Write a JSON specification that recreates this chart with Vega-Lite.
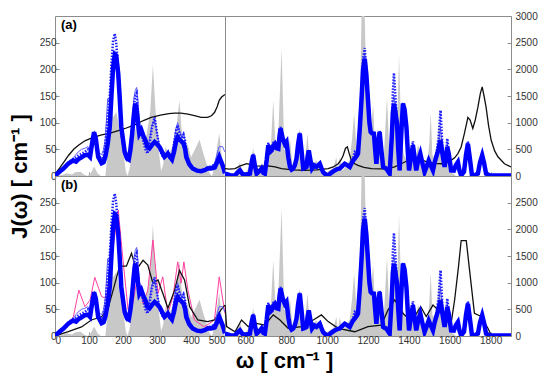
{
  "$schema": "https://vega.github.io/schema/vega-lite/v6.json",
  "padding": {"left": 7, "top": 10, "right": 5, "bottom": 5},
  "background": "white",
  "config": {
    "font": "Liberation Sans",
    "view": {"stroke": "#8c8c8c", "strokeWidth": 1},
    "axis": {"grid": false, "domain": false, "tickColor": "#8c8c8c", "tickSize": -4, "labelFont": "Liberation Sans", "labelFontSize": 10, "labelColor": "#333333", "labelPadding": 3, "title": null, "format": "d"},
    "title": {"font": "Liberation Sans", "fontSize": 13, "fontWeight": "bold", "color": "#000000", "anchor": "start", "frame": "group", "offset": -16, "dx": 6}
  },
  "datasets": {
    "grayL": [
      {"w":0,"v":0},{"w":20,"v":2},{"w":35,"v":5},{"w":50,"v":3},{"w":60,"v":7},{"w":75,"v":8},{"w":85,"v":3},{"w":95,"v":0},{"w":105,"v":5},{"w":115,"v":18},{"w":125,"v":5},{"w":135,"v":0},{"w":148,"v":0},{"w":152,"v":25},{"w":158,"v":100},{"w":165,"v":130},{"w":172,"v":110},{"w":180,"v":120},{"w":190,"v":90},{"w":200,"v":50},{"w":208,"v":10},{"w":213,"v":0},{"w":220,"v":15},{"w":228,"v":70},{"w":238,"v":90},{"w":248,"v":95},{"w":255,"v":85},{"w":262,"v":60},{"w":270,"v":80},{"w":280,"v":120},{"w":288,"v":208},{"w":295,"v":130},{"w":303,"v":60},{"w":312,"v":10},{"w":318,"v":20},{"w":325,"v":55},{"w":335,"v":40},{"w":345,"v":55},{"w":357,"v":90},{"w":366,"v":142},{"w":372,"v":90},{"w":380,"v":55},{"w":390,"v":60},{"w":400,"v":35},{"w":412,"v":50},{"w":425,"v":68},{"w":435,"v":45},{"w":445,"v":25},{"w":455,"v":5},{"w":462,"v":0},{"w":470,"v":20},{"w":478,"v":60},{"w":483,"v":80},{"w":490,"v":40},{"w":495,"v":10},{"w":500,"v":0}
    ],
    "grayR": [
      {"w":500,"v":0},{"w":520,"v":50},{"w":540,"v":0},{"w":560,"v":150},{"w":573,"v":260},{"w":585,"v":100},{"w":600,"v":50},{"w":615,"v":150},{"w":630,"v":300},{"w":638,"v":540},{"w":648,"v":150},{"w":665,"v":100},{"w":680,"v":250},{"w":695,"v":100},{"w":710,"v":400},{"w":725,"v":600},{"w":736,"v":1420},{"w":748,"v":500},{"w":760,"v":700},{"w":777,"v":2390},{"w":790,"v":500},{"w":805,"v":400},{"w":818,"v":700},{"w":830,"v":200},{"w":845,"v":300},{"w":866,"v":890},{"w":880,"v":200},{"w":892,"v":300},{"w":904,"v":800},{"w":915,"v":200},{"w":930,"v":150},{"w":945,"v":300},{"w":960,"v":200},{"w":975,"v":100},{"w":990,"v":50},{"w":1010,"v":100},{"w":1030,"v":150},{"w":1045,"v":350},{"w":1052,"v":100},{"w":1062,"v":350},{"w":1075,"v":100},{"w":1095,"v":200},{"w":1110,"v":300},{"w":1122,"v":700},{"w":1132,"v":1170},{"w":1145,"v":500},{"w":1160,"v":1300},{"w":1170,"v":3300},{"w":1182,"v":3300},{"w":1190,"v":2000},{"w":1200,"v":1100},{"w":1212,"v":800},{"w":1225,"v":1325},{"w":1235,"v":500},{"w":1248,"v":900},{"w":1260,"v":300},{"w":1275,"v":200},{"w":1293,"v":1480},{"w":1305,"v":400},{"w":1320,"v":800},{"w":1335,"v":1200},{"w":1345,"v":1300},{"w":1352,"v":2260},{"w":1362,"v":900},{"w":1375,"v":400},{"w":1390,"v":300},{"w":1405,"v":450},{"w":1418,"v":300},{"w":1430,"v":200},{"w":1445,"v":600},{"w":1460,"v":300},{"w":1475,"v":200},{"w":1490,"v":250},{"w":1500,"v":600},{"w":1507,"v":1200},{"w":1515,"v":400},{"w":1530,"v":300},{"w":1550,"v":1100},{"w":1560,"v":500},{"w":1575,"v":300},{"w":1590,"v":400},{"w":1600,"v":150},{"w":1615,"v":50},{"w":1630,"v":0},{"w":1900,"v":0}
    ],
    "blueL": [
      {"w":0,"thick":0,"dot":0,"thin":0},{"w":8,"thick":5,"dot":5,"thin":5},{"w":15,"thick":9,"dot":10,"thin":9},{"w":25,"thick":14,"dot":16,"thin":15},{"w":39,"thick":23,"dot":25,"thin":26},{"w":48,"thick":27,"dot":30,"thin":30},{"w":54,"thick":29,"dot":32,"thin":35},{"w":62,"thick":27,"dot":35,"thin":40},{"w":68,"thick":31,"dot":38,"thin":45},{"w":78,"thick":35,"dot":42,"thin":50},{"w":88,"thick":39,"dot":45,"thin":52},{"w":97,"thick":40,"dot":50,"thin":55},{"w":103,"thick":36,"dot":45,"thin":50},{"w":110,"thick":65,"dot":70,"thin":70},{"w":115,"thick":82,"dot":78,"thin":80},{"w":120,"thick":70,"dot":65,"thin":72},{"w":127,"thick":36,"dot":40,"thin":45},{"w":137,"thick":24,"dot":30,"thin":40},{"w":143,"thick":26,"dot":38,"thin":50},{"w":148,"thick":36,"dot":60,"thin":70},{"w":155,"thick":60,"dot":110,"thin":145},{"w":161,"thick":92,"dot":150,"thin":140},{"w":166,"thick":150,"dot":210,"thin":170},{"w":171,"thick":204,"dot":255,"thin":215},{"w":176,"thick":228,"dot":267,"thin":235},{"w":180,"thick":226,"dot":250,"thin":220},{"w":186,"thick":192,"dot":200,"thin":180},{"w":190,"thick":150,"dot":140,"thin":140},{"w":195,"thick":92,"dot":80,"thin":90},{"w":205,"thick":45,"dot":40,"thin":45},{"w":212,"thick":33,"dot":30,"thin":35},{"w":217,"thick":31,"dot":32,"thin":40},{"w":222,"thick":50,"dot":60,"thin":70},{"w":227,"thick":79,"dot":90,"thin":100},{"w":232,"thick":115,"dot":130,"thin":145},{"w":236,"thick":136,"dot":150,"thin":160},{"w":240,"thick":125,"dot":155,"thin":166},{"w":244,"thick":100,"dot":120,"thin":140},{"w":248,"thick":79,"dot":90,"thin":100},{"w":254,"thick":86,"dot":80,"thin":85},{"w":260,"thick":75,"dot":65,"thin":70},{"w":266,"thick":67,"dot":50,"thin":55},{"w":272,"thick":55,"dot":42,"thin":45},{"w":278,"thick":52,"dot":60,"thin":70},{"w":285,"thick":58,"dot":90,"thin":95},{"w":293,"thick":64,"dot":110,"thin":105},{"w":300,"thick":60,"dot":80,"thin":80},{"w":308,"thick":54,"dot":50,"thin":55},{"w":315,"thick":45,"dot":38,"thin":40},{"w":322,"thick":36,"dot":35,"thin":38},{"w":332,"thick":42,"dot":45,"thin":45},{"w":338,"thick":36,"dot":30,"thin":35},{"w":344,"thick":31,"dot":35,"thin":40},{"w":350,"thick":45,"dot":60,"thin":65},{"w":356,"thick":65,"dot":85,"thin":90},{"w":361,"thick":73,"dot":95,"thin":100},{"w":366,"thick":68,"dot":80,"thin":85},{"w":372,"thick":65,"dot":70,"thin":75},{"w":378,"thick":61,"dot":78,"thin":80},{"w":383,"thick":50,"dot":65,"thin":65},{"w":386,"thick":36,"dot":45,"thin":45},{"w":395,"thick":22,"dot":25,"thin":25},{"w":405,"thick":14,"dot":15,"thin":15},{"w":418,"thick":10,"dot":10,"thin":12},{"w":430,"thick":9,"dot":10,"thin":12},{"w":440,"thick":11,"dot":12,"thin":14},{"w":449,"thick":14,"dot":16,"thin":18},{"w":458,"thick":14,"dot":18,"thin":18},{"w":465,"thick":15,"dot":20,"thin":20},{"w":470,"thick":16,"dot":18,"thin":25},{"w":478,"thick":28,"dot":32,"thin":45},{"w":483,"thick":36,"dot":34,"thin":55},{"w":488,"thick":28,"dot":25,"thin":55},{"w":493,"thick":20,"dot":18,"thin":55},{"w":496,"thick":14,"dot":15,"thin":50},{"w":500,"thick":5,"dot":5,"thin":45}
    ],
    "blueR": [
      {"w":500,"thick":45,"dot":50,"thin":60},{"w":525,"thick":15,"dot":15,"thin":20},{"w":549,"thick":10,"dot":10,"thin":10},{"w":560,"thick":60,"dot":60,"thin":70},{"w":573,"thick":105,"dot":120,"thin":130},{"w":585,"thick":40,"dot":40,"thin":45},{"w":598,"thick":25,"dot":25,"thin":30},{"w":622,"thick":45,"dot":50,"thin":50},{"w":630,"thick":250,"dot":280,"thin":260},{"w":638,"thick":390,"dot":420,"thin":400},{"w":646,"thick":200,"dot":220,"thin":210},{"w":655,"thick":45,"dot":50,"thin":50},{"w":668,"thick":90,"dot":100,"thin":100},{"w":679,"thick":140,"dot":150,"thin":150},{"w":688,"thick":60,"dot":60,"thin":60},{"w":695,"thick":45,"dot":50,"thin":50},{"w":704,"thick":300,"dot":350,"thin":320},{"w":712,"thick":575,"dot":620,"thin":600},{"w":720,"thick":450,"dot":500,"thin":480},{"w":728,"thick":480,"dot":520,"thin":500},{"w":736,"thick":560,"dot":620,"thin":600},{"w":744,"thick":600,"dot":650,"thin":620},{"w":752,"thick":520,"dot":560,"thin":540},{"w":761,"thick":510,"dot":540,"thin":530},{"w":767,"thick":750,"dot":800,"thin":780},{"w":772,"thick":890,"dot":920,"thin":900},{"w":778,"thick":780,"dot":820,"thin":800},{"w":785,"thick":670,"dot":700,"thin":690},{"w":793,"thick":600,"dot":640,"thin":620},{"w":801,"thick":640,"dot":660,"thin":650},{"w":810,"thick":350,"dot":380,"thin":360},{"w":818,"thick":170,"dot":180,"thin":180},{"w":826,"thick":120,"dot":130,"thin":130},{"w":834,"thick":140,"dot":150,"thin":150},{"w":842,"thick":200,"dot":210,"thin":210},{"w":850,"thick":325,"dot":340,"thin":330},{"w":858,"thick":600,"dot":620,"thin":610},{"w":866,"thick":795,"dot":810,"thin":800},{"w":874,"thick":500,"dot":520,"thin":510},{"w":883,"thick":140,"dot":150,"thin":150},{"w":891,"thick":150,"dot":160,"thin":160},{"w":899,"thick":170,"dot":180,"thin":180},{"w":904,"thick":350,"dot":360,"thin":360},{"w":910,"thick":480,"dot":490,"thin":490},{"w":918,"thick":300,"dot":310,"thin":310},{"w":926,"thick":140,"dot":150,"thin":150},{"w":937,"thick":200,"dot":210,"thin":210},{"w":948,"thick":170,"dot":180,"thin":180},{"w":956,"thick":200,"dot":210,"thin":210},{"w":964,"thick":230,"dot":240,"thin":240},{"w":972,"thick":150,"dot":160,"thin":160},{"w":980,"thick":75,"dot":80,"thin":80},{"w":992,"thick":30,"dot":30,"thin":30},{"w":1005,"thick":10,"dot":10,"thin":10},{"w":1020,"thick":60,"dot":60,"thin":60},{"w":1037,"thick":105,"dot":110,"thin":110},{"w":1050,"thick":130,"dot":130,"thin":130},{"w":1062,"thick":140,"dot":150,"thin":150},{"w":1075,"thick":190,"dot":200,"thin":200},{"w":1086,"thick":230,"dot":240,"thin":240},{"w":1100,"thick":200,"dot":210,"thin":210},{"w":1111,"thick":170,"dot":180,"thin":180},{"w":1125,"thick":280,"dot":300,"thin":290},{"w":1135,"thick":325,"dot":450,"thin":380},{"w":1145,"thick":380,"dot":420,"thin":400},{"w":1151,"thick":420,"dot":450,"thin":430},{"w":1160,"thick":900,"dot":1000,"thin":950},{"w":1168,"thick":1420,"dot":1600,"thin":1500},{"w":1176,"thick":2000,"dot":2200,"thin":2100},{"w":1184,"thick":2200,"dot":2400,"thin":2300},{"w":1192,"thick":1900,"dot":2000,"thin":1950},{"w":1200,"thick":1420,"dot":1500,"thin":1450},{"w":1207,"thick":1000,"dot":1050,"thin":1020},{"w":1213,"thick":825,"dot":850,"thin":840},{"w":1220,"thick":800,"dot":820,"thin":810},{"w":1229,"thick":795,"dot":800,"thin":800},{"w":1235,"thick":500,"dot":520,"thin":510},{"w":1241,"thick":230,"dot":250,"thin":240},{"w":1249,"thick":600,"dot":620,"thin":610},{"w":1257,"thick":825,"dot":850,"thin":840},{"w":1265,"thick":500,"dot":520,"thin":510},{"w":1274,"thick":170,"dot":180,"thin":180},{"w":1282,"thick":150,"dot":160,"thin":160},{"w":1290,"thick":140,"dot":150,"thin":150},{"w":1298,"thick":90,"dot":100,"thin":100},{"w":1306,"thick":45,"dot":50,"thin":50},{"w":1316,"thick":700,"dot":900,"thin":800},{"w":1322,"thick":1200,"dot":1600,"thin":1400},{"w":1327,"thick":1355,"dot":1930,"thin":1500},{"w":1334,"thick":1200,"dot":1500,"thin":1300},{"w":1342,"thick":980,"dot":1000,"thin":990},{"w":1348,"thick":500,"dot":520,"thin":510},{"w":1355,"thick":105,"dot":110,"thin":110},{"w":1363,"thick":800,"dot":850,"thin":830},{"w":1371,"thick":1355,"dot":1380,"thin":1370},{"w":1379,"thick":1250,"dot":1300,"thin":1270},{"w":1388,"thick":920,"dot":950,"thin":930},{"w":1395,"thick":450,"dot":470,"thin":460},{"w":1401,"thick":105,"dot":110,"thin":110},{"w":1410,"thick":350,"dot":400,"thin":370},{"w":1420,"thick":575,"dot":650,"thin":600},{"w":1428,"thick":350,"dot":380,"thin":360},{"w":1436,"thick":105,"dot":110,"thin":110},{"w":1446,"thick":300,"dot":320,"thin":310},{"w":1456,"thick":420,"dot":450,"thin":430},{"w":1466,"thick":250,"dot":260,"thin":260},{"w":1477,"thick":75,"dot":80,"thin":80},{"w":1487,"thick":180,"dot":190,"thin":190},{"w":1497,"thick":290,"dot":300,"thin":300},{"w":1507,"thick":200,"dot":210,"thin":210},{"w":1518,"thick":105,"dot":110,"thin":110},{"w":1526,"thick":250,"dot":270,"thin":260},{"w":1534,"thick":360,"dot":400,"thin":380},{"w":1545,"thick":500,"dot":700,"thin":600},{"w":1555,"thick":670,"dot":1230,"thin":900},{"w":1565,"thick":400,"dot":500,"thin":450},{"w":1575,"thick":170,"dot":180,"thin":180},{"w":1582,"thick":350,"dot":400,"thin":380},{"w":1588,"thick":545,"dot":700,"thin":600},{"w":1596,"thick":400,"dot":450,"thin":420},{"w":1607,"thick":105,"dot":110,"thin":110},{"w":1620,"thick":100,"dot":100,"thin":100},{"w":1630,"thick":200,"dot":210,"thin":210},{"w":1640,"thick":260,"dot":270,"thin":270},{"w":1648,"thick":100,"dot":100,"thin":100},{"w":1656,"thick":10,"dot":10,"thin":10},{"w":1670,"thick":80,"dot":80,"thin":80},{"w":1680,"thick":400,"dot":420,"thin":410},{"w":1689,"thick":605,"dot":650,"thin":620},{"w":1698,"thick":350,"dot":380,"thin":360},{"w":1709,"thick":10,"dot":10,"thin":10},{"w":1725,"thick":20,"dot":20,"thin":20},{"w":1738,"thick":45,"dot":50,"thin":50},{"w":1748,"thick":250,"dot":280,"thin":260},{"w":1759,"thick":390,"dot":420,"thin":400},{"w":1768,"thick":250,"dot":270,"thin":260},{"w":1778,"thick":45,"dot":50,"thin":50},{"w":1795,"thick":15,"dot":15,"thin":15},{"w":1819,"thick":10,"dot":10,"thin":10},{"w":1900,"thick":10,"dot":10,"thin":10}
    ],
    "blackAL": [
      {"w":0,"v":0},{"w":5,"v":8},{"w":15,"v":16},{"w":25,"v":25},{"w":39,"v":38},{"w":55,"v":50},{"w":70,"v":58},{"w":88,"v":66},{"w":110,"v":72},{"w":137,"v":77},{"w":160,"v":80},{"w":186,"v":85},{"w":210,"v":90},{"w":234,"v":96},{"w":260,"v":104},{"w":283,"v":110},{"w":310,"v":114},{"w":335,"v":117},{"w":352,"v":118},{"w":370,"v":118},{"w":391,"v":116},{"w":410,"v":113},{"w":430,"v":110},{"w":449,"v":110},{"w":460,"v":113},{"w":469,"v":119},{"w":477,"v":130},{"w":483,"v":142},{"w":490,"v":148},{"w":500,"v":153}
    ],
    "blackAR": [
      {"w":500,"v":140},{"w":520,"v":130},{"w":549,"v":140},{"w":575,"v":190},{"w":606,"v":230},{"w":625,"v":215},{"w":647,"v":190},{"w":680,"v":185},{"w":712,"v":190},{"w":745,"v":170},{"w":777,"v":140},{"w":830,"v":115},{"w":891,"v":105},{"w":950,"v":115},{"w":1005,"v":140},{"w":1030,"v":170},{"w":1054,"v":230},{"w":1068,"v":300},{"w":1078,"v":380},{"w":1090,"v":520},{"w":1099,"v":545},{"w":1108,"v":420},{"w":1119,"v":290},{"w":1135,"v":230},{"w":1151,"v":200},{"w":1180,"v":160},{"w":1217,"v":140},{"w":1260,"v":135},{"w":1298,"v":140},{"w":1330,"v":170},{"w":1363,"v":230},{"w":1395,"v":290},{"w":1428,"v":325},{"w":1460,"v":300},{"w":1493,"v":260},{"w":1525,"v":235},{"w":1559,"v":230},{"w":1595,"v":260},{"w":1624,"v":340},{"w":1640,"v":420},{"w":1656,"v":545},{"w":1672,"v":800},{"w":1689,"v":1100},{"w":1700,"v":1050},{"w":1713,"v":890},{"w":1725,"v":1050},{"w":1738,"v":1290},{"w":1750,"v":1550},{"w":1759,"v":1670},{"w":1768,"v":1500},{"w":1778,"v":1290},{"w":1790,"v":950},{"w":1803,"v":670},{"w":1820,"v":470},{"w":1836,"v":360},{"w":1868,"v":230},{"w":1900,"v":170}
    ],
    "blackBL": [
      {"w":0,"v":0},{"w":39,"v":8},{"w":78,"v":17},{"w":107,"v":30},{"w":137,"v":36},{"w":156,"v":52},{"w":171,"v":86},{"w":190,"v":131},{"w":210,"v":131},{"w":225,"v":155},{"w":239,"v":124},{"w":259,"v":142},{"w":273,"v":133},{"w":288,"v":99},{"w":303,"v":105},{"w":317,"v":80},{"w":332,"v":52},{"w":352,"v":86},{"w":366,"v":123},{"w":381,"v":105},{"w":396,"v":55},{"w":420,"v":30},{"w":449,"v":27},{"w":469,"v":30},{"w":488,"v":49},{"w":500,"v":58}
    ],
    "blackBR": [
      {"w":500,"v":580},{"w":508,"v":175},{"w":549,"v":80},{"w":581,"v":300},{"w":614,"v":175},{"w":647,"v":240},{"w":695,"v":205},{"w":736,"v":395},{"w":769,"v":300},{"w":809,"v":145},{"w":875,"v":175},{"w":932,"v":300},{"w":972,"v":395},{"w":1005,"v":270},{"w":1054,"v":145},{"w":1135,"v":80},{"w":1200,"v":175},{"w":1265,"v":205},{"w":1298,"v":490},{"w":1331,"v":675},{"w":1371,"v":425},{"w":1412,"v":270},{"w":1458,"v":550},{"w":1485,"v":365},{"w":1518,"v":580},{"w":1559,"v":425},{"w":1607,"v":240},{"w":1624,"v":675},{"w":1643,"v":1300},{"w":1656,"v":1790},{"w":1681,"v":1790},{"w":1697,"v":1240},{"w":1721,"v":425},{"w":1754,"v":365},{"w":1787,"v":145},{"w":1803,"v":20}
    ],
    "pinkBL": [
      {"w":0,"v":0},{"w":34,"v":17},{"w":54,"v":36},{"w":70,"v":86},{"w":88,"v":55},{"w":103,"v":67},{"w":117,"v":110},{"w":137,"v":74},{"w":151,"v":70},{"w":166,"v":142},{"w":186,"v":236},{"w":200,"v":142},{"w":215,"v":49},{"w":229,"v":61},{"w":244,"v":117},{"w":259,"v":61},{"w":273,"v":86},{"w":288,"v":180},{"w":303,"v":80},{"w":317,"v":111},{"w":332,"v":42},{"w":347,"v":74},{"w":361,"v":139},{"w":371,"v":99},{"w":379,"v":139},{"w":391,"v":86},{"w":410,"v":30},{"w":439,"v":17},{"w":469,"v":30},{"w":483,"v":111},{"w":500,"v":42}
    ]
  },
  "columns": 2,
  "spacing": 0,
  "bounds": "flush",
  "concat": [
    {
      "width": 170, "height": 160,
      "title": {"text": "(a)"},
      "encoding": {
        "x": {"field": "w", "type": "quantitative", "scale": {"domain": [0, 500], "nice": false}, "axis": {"values": [100, 200, 300, 400], "labels": false}},
        "y": {"field": "v", "type": "quantitative", "scale": {"domain": [0, 300], "nice": false}, "axis": {"orient": "left", "values": [0, 50, 100, 150, 200, 250], "title": "J(ω) [ cm⁻¹ ]", "titleFont": "Liberation Sans", "titleFontSize": 22, "titleFontWeight": "bold", "titleColor": "#000000", "titleX": -29, "titleY": 160, "titleAngle": -90, "titleAlign": "center", "titleBaseline": "alphabetic"}}
      },
      "layer": [
        {"data": {"name": "grayL"}, "mark": {"type": "area", "color": "#c8c8c8", "clip": true}},
        {"data": {"name": "blackAL"}, "mark": {"type": "line", "color": "#111111", "strokeWidth": 1.3, "clip": true}},
        {"data": {"name": "blueL"}, "transform": [{"fold": ["thin"], "as": ["s", "v"]}], "mark": {"type": "line", "color": "#5a5aff", "strokeWidth": 1, "clip": true}},
        {"data": {"name": "blueL"}, "transform": [{"fold": ["dot"], "as": ["s", "v"]}], "mark": {"type": "line", "color": "#2020ff", "strokeWidth": 2.5, "strokeDash": [1.5, 1.5], "clip": true}},
        {"data": {"name": "blueL"}, "transform": [{"fold": ["thick"], "as": ["s", "v"]}], "mark": {"type": "line", "color": "#0000ff", "strokeWidth": 4.5, "clip": true}}
      ]
    },
    {
      "width": 286, "height": 160,
      "encoding": {
        "x": {"field": "w", "type": "quantitative", "scale": {"domain": [500, 1900], "nice": false}, "axis": {"values": [600, 800, 1000, 1200, 1400, 1600, 1800], "labels": false}},
        "y": {"field": "v", "type": "quantitative", "scale": {"domain": [0, 3000], "nice": false}, "axis": {"orient": "right", "values": [0, 500, 1000, 1500, 2000, 2500, 3000], "labelPadding": 8}}
      },
      "layer": [
        {"data": {"name": "grayR"}, "mark": {"type": "area", "color": "#c8c8c8", "clip": true}},
        {"data": {"name": "blackAR"}, "mark": {"type": "line", "color": "#111111", "strokeWidth": 1.3, "clip": true}},
        {"data": {"name": "blueR"}, "transform": [{"fold": ["thin"], "as": ["s", "v"]}], "mark": {"type": "line", "color": "#5a5aff", "strokeWidth": 1, "clip": true}},
        {"data": {"name": "blueR"}, "transform": [{"fold": ["dot"], "as": ["s", "v"]}], "mark": {"type": "line", "color": "#2020ff", "strokeWidth": 2.5, "strokeDash": [1.5, 1.5], "clip": true}},
        {"data": {"name": "blueR"}, "transform": [{"fold": ["thick"], "as": ["s", "v"]}], "mark": {"type": "line", "color": "#0000ff", "strokeWidth": 4.5, "clip": true}}
      ]
    },
    {
      "width": 170, "height": 160,
      "title": {"text": "(b)"},
      "encoding": {
        "x": {"field": "w", "type": "quantitative", "scale": {"domain": [0, 500], "nice": false}, "axis": {"values": [0, 100, 200, 300, 400, 500]}},
        "y": {"field": "v", "type": "quantitative", "scale": {"domain": [0, 300], "nice": false}, "axis": {"orient": "left", "values": [0, 50, 100, 150, 200, 250]}}
      },
      "layer": [
        {"data": {"name": "grayL"}, "mark": {"type": "area", "color": "#c8c8c8", "clip": true}},
        {"data": {"name": "pinkBL"}, "mark": {"type": "line", "color": "#ff3fa0", "strokeWidth": 1, "clip": true}},
        {"data": {"name": "blackBL"}, "mark": {"type": "line", "color": "#111111", "strokeWidth": 1.3, "clip": true}},
        {"data": {"name": "blueL"}, "transform": [{"fold": ["thin"], "as": ["s", "v"]}], "mark": {"type": "line", "color": "#5a5aff", "strokeWidth": 1, "clip": true}},
        {"data": {"name": "blueL"}, "transform": [{"fold": ["dot"], "as": ["s", "v"]}], "mark": {"type": "line", "color": "#2020ff", "strokeWidth": 2.5, "strokeDash": [1.5, 1.5], "clip": true}},
        {"data": {"name": "blueL"}, "transform": [{"fold": ["thick"], "as": ["s", "v"]}], "mark": {"type": "line", "color": "#0000ff", "strokeWidth": 4.5, "clip": true}}
      ]
    },
    {
      "width": 286, "height": 160,
      "encoding": {
        "x": {"field": "w", "type": "quantitative", "scale": {"domain": [500, 1900], "nice": false}, "axis": {"values": [600, 800, 1000, 1200, 1400, 1600, 1800], "title": "ω [ cm⁻¹ ]", "titleFont": "Liberation Sans", "titleFontSize": 22, "titleFontWeight": "bold", "titleColor": "#000000", "titleX": 59, "titleY": 31, "titleAlign": "center", "titleBaseline": "alphabetic"}},
        "y": {"field": "v", "type": "quantitative", "scale": {"domain": [0, 3000], "nice": false}, "axis": {"orient": "right", "values": [0, 500, 1000, 1500, 2000, 2500], "labelPadding": 8}}
      },
      "layer": [
        {"data": {"name": "grayR"}, "mark": {"type": "area", "color": "#c8c8c8", "clip": true}},
        {"data": {"name": "blackBR"}, "mark": {"type": "line", "color": "#111111", "strokeWidth": 1.3, "clip": true}},
        {"data": {"name": "blueR"}, "transform": [{"fold": ["thin"], "as": ["s", "v"]}], "mark": {"type": "line", "color": "#5a5aff", "strokeWidth": 1, "clip": true}},
        {"data": {"name": "blueR"}, "transform": [{"fold": ["dot"], "as": ["s", "v"]}], "mark": {"type": "line", "color": "#2020ff", "strokeWidth": 2.5, "strokeDash": [1.5, 1.5], "clip": true}},
        {"data": {"name": "blueR"}, "transform": [{"fold": ["thick"], "as": ["s", "v"]}], "mark": {"type": "line", "color": "#0000ff", "strokeWidth": 4.5, "clip": true}}
      ]
    }
  ]
}
